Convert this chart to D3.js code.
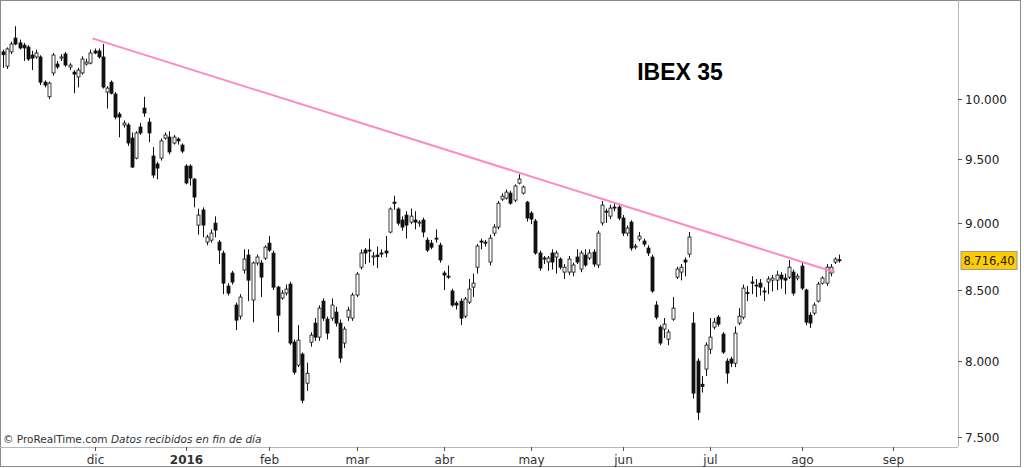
<!DOCTYPE html>
<html><head><meta charset="utf-8">
<script src="https://cdn.jsdelivr.net/npm/d3@7"></script>
<style>body{margin:0;background:#fff}svg{display:block}</style>
</head><body><svg id="c" width="1024" height="468"></svg>
<script>
const open=[10410,10284,10410,10533,10490,10470,10453,10382,10365,10365,10145,10020,10225,10303,10355,10392,10277,10232,10190,10225,10303,10311,10418,10418,10365,10060,10145,10043,9873,9782,9782,9674,9510,9765,9924,9806,9527,9463,9510,9674,9682,9633,9666,9616,9446,9446,9342,8983,9099,8854,8869,8998,8854,8771,8529,8624,8392,8313,8646,8757,8428,8698,8698,8734,8846,8771,8521,8442,8478,8543,8132,7974,8049,7852,8131,8264,8166,8420,8292,8299,8342,8264,8125,8306,8299,8464,8667,8794,8794,8742,8757,8772,8787,8930,9160,9107,9022,9060,9006,9022,8998,9022,8869,8846,8884,8831,8624,8601,8493,8406,8420,8313,8413,8521,8667,8862,8854,8705,8922,8968,9184,9192,9231,9176,9310,9231,9160,9075,9014,8772,8735,8705,8772,8742,8727,8631,8631,8631,8742,8653,8757,8735,8779,8683,9000,9090,9052,9122,9122,9037,8922,9006,8816,8877,8862,8809,8742,8392,8236,8222,8152,8292,8594,8631,8720,8764,8264,8001,7845,7947,8083,8236,8306,8187,8001,8015,7987,8264,8306,8482,8558,8536,8550,8493,8558,8572,8572,8609,8587,8594,8631,8587,8675,8500,8320,8335,8420,8550,8550,8624,8705,8722];
const close=[10385,10436,10480,10480,10445,10445,10347,10355,10400,10145,10120,10137,10382,10277,10365,10294,10294,10215,10250,10347,10320,10400,10400,10365,10103,10094,10050,9848,9848,9798,9633,9438,9716,9716,9882,9716,9374,9430,9650,9699,9560,9682,9650,9567,9311,9350,9200,9060,8983,8892,8922,8945,8794,8550,8478,8558,8285,8449,8727,8572,8698,8742,8594,8816,8794,8521,8320,8478,8507,8125,7926,8145,7739,7919,8180,8166,8370,8299,8194,8392,8264,8022,8222,8356,8464,8616,8772,8772,8790,8750,8745,8764,8772,9107,9150,8998,8968,8983,9052,9006,9006,8930,8794,8816,8877,8720,8609,8594,8392,8392,8299,8435,8507,8550,8824,8854,8846,8884,8968,9152,9207,9239,9152,9287,9342,9279,9037,9029,8772,8661,8727,8735,8705,8772,8667,8667,8727,8683,8705,8772,8683,8772,8690,8922,9137,9083,9114,9114,9037,8922,8960,8809,8824,8899,8839,8772,8493,8306,8125,8257,8201,8370,8653,8667,8705,8892,7786,7660,7830,8111,8166,8271,8257,8063,7920,7987,8194,8313,8514,8478,8550,8529,8521,8486,8580,8587,8609,8580,8572,8667,8478,8601,8514,8271,8264,8392,8543,8587,8667,8667,8727,8716.4];
const high=[10430,10450,10500,10640,10520,10490,10470,10420,10430,10380,10160,10150,10400,10330,10390,10410,10310,10250,10270,10370,10350,10430,10440,10440,10480,10110,10160,10060,9890,9820,9800,9720,9730,9800,10020,9840,9600,9480,9670,9720,9730,9700,9680,9630,9460,9460,9350,9110,9120,8910,8950,9050,8870,8790,8550,8640,8410,8470,8800,8800,8710,8760,8720,8830,8900,8790,8530,8500,8540,8560,8150,8250,8060,7990,8200,8300,8390,8440,8310,8440,8380,8290,8240,8380,8480,8630,8800,8810,8880,8780,8820,8800,8900,9120,9210,9120,9050,9090,9110,9090,9020,9040,8890,8870,8950,8850,8640,8680,8510,8420,8440,8450,8580,8620,8840,8880,8870,8910,8990,9170,9230,9260,9250,9300,9380,9290,9170,9090,9030,8790,8750,8750,8800,8790,8740,8690,8750,8700,8800,8790,8800,8800,8800,8940,9170,9110,9140,9160,9150,9060,8980,9020,8840,8930,8880,8830,8760,8420,8250,8300,8220,8450,8670,8690,8740,8930,8340,8020,7900,8130,8300,8300,8320,8200,8020,8030,8240,8370,8540,8530,8600,8580,8580,8520,8600,8610,8640,8630,8620,8720,8650,8620,8700,8510,8340,8410,8560,8600,8690,8690,8740,8760];
const low=[10270,10260,10390,10470,10430,10330,10330,10250,10350,10120,10100,10000,10200,10260,10330,10280,10250,10050,10100,10210,10290,10300,10390,10350,10090,9920,10040,9830,9680,9760,9610,9430,9500,9700,9850,9640,9350,9340,9490,9660,9540,9620,9620,9550,9300,9290,9120,8910,8890,8830,8850,8890,8690,8470,8460,8540,8215,8290,8620,8420,8270,8680,8450,8720,8780,8500,8200,8430,8460,8110,7910,7960,7720,7800,8100,8140,8140,8280,8150,8280,8240,7990,8090,8280,8280,8450,8650,8690,8700,8680,8660,8740,8740,8920,9100,8980,8940,8880,8990,8950,8970,8890,8780,8800,8850,8700,8500,8580,8380,8360,8250,8300,8400,8450,8620,8800,8820,8680,8900,8950,9170,9180,9140,9160,9300,9220,9010,8990,8760,8640,8690,8640,8650,8620,8650,8580,8610,8600,8690,8630,8670,8720,8670,8660,8980,9000,9030,9090,9020,8900,8900,8790,8800,8860,8820,8750,8480,8290,8110,8160,8110,8280,8580,8570,8600,8740,7750,7610,7790,7900,8050,8220,8240,8050,7850,7960,7960,8250,8290,8420,8470,8450,8460,8420,8470,8490,8500,8510,8470,8580,8460,8570,8500,8250,8230,8320,8410,8540,8530,8600,8690,8700];
const yTicks=[7500,8000,8500,9000,9500,10000];
const monthLabels=["dic","2016","feb","mar","abr","may","jun","jul","ago","sep"];
const monthIdx=[22,44,64,85,106,127,149,170,192,214];
const trend=[{i:21.5,v:10530},{i:200,v:8630}];
const lastPrice="8.716,40";

const svg=d3.select("#c");
const W=958,H=447;
const x=d3.scaleLinear().domain([0,201]).range([3,839]);
const y=d3.scaleLog().domain([7437,10880]).range([H,0]);
const fmt=v=>d3.format(",")(v).replace(/,/g,".");

svg.append("rect").attr("x",0.5).attr("y",0.5).attr("width",1020).attr("height",466).attr("fill","none").attr("stroke","#8a8a8a");
const g=svg.append("g");
const cw=3;
open.forEach((o,i)=>{
  const c=close[i],up=c>=o,cx=Math.round(x(i))+0.5;
  g.append("line").attr("x1",cx).attr("x2",cx).attr("y1",y(high[i])).attr("y2",y(low[i])).attr("stroke","#111").attr("stroke-width",1);
  const t=y(Math.max(o,c)),b=y(Math.min(o,c));
  g.append("rect").attr("x",cx-cw/2).attr("y",t).attr("width",cw).attr("height",Math.max(1,b-t))
   .attr("fill",up?"#fff":"#111").attr("stroke","#111").attr("stroke-width",0.8);
});
svg.append("line").attr("x1",x(trend[0].i)).attr("y1",y(trend[0].v)).attr("x2",x(trend[1].i)).attr("y2",y(trend[1].v))
  .attr("stroke","#ff88c8").attr("stroke-width",2);

svg.append("line").attr("x1",W+0.5).attr("x2",W+0.5).attr("y1",0).attr("y2",H).attr("stroke","#b0b8c0");
svg.append("line").attr("x1",0).attr("x2",W).attr("y1",H+0.5).attr("y2",H+0.5).attr("stroke","#b0b8c0");
yTicks.forEach(v=>{
  const yy=Math.round(y(v))+0.5;
  svg.append("line").attr("x1",W).attr("x2",W+4).attr("y1",yy).attr("y2",yy).attr("stroke","#555");
  svg.append("text").attr("x",W+7).attr("y",yy+4.5).text(fmt(v)).attr("font-family","DejaVu Sans").attr("font-size",12).attr("fill","#222");
});
const ly=Math.round(y(8716.4))+0.5;
svg.append("rect").attr("x",961).attr("y",ly-9).attr("width",56).attr("height",18).attr("fill","#ffcc00").attr("stroke","#999");
svg.append("text").attr("x",989).attr("y",ly+4.5).attr("text-anchor","middle").text(lastPrice).attr("font-family","DejaVu Sans").attr("font-size",11.5).attr("fill","#222");
monthIdx.forEach((m,k)=>{
  const xx=Math.round(x(m))+0.5;
  svg.append("line").attr("x1",xx).attr("x2",xx).attr("y1",H).attr("y2",H+4).attr("stroke","#555");
  svg.append("text").attr("x",xx).attr("y",H+17).attr("text-anchor","middle").text(monthLabels[k])
    .attr("font-family","DejaVu Sans").attr("font-size",12).attr("font-weight",monthLabels[k]==="2016"?"bold":"normal").attr("fill","#333");
});
svg.append("text").attr("x",680).attr("y",80).attr("text-anchor","middle").text("IBEX 35")
  .attr("font-family","Liberation Sans").attr("font-weight","bold").attr("font-size",23).attr("fill","#000");
const cp=svg.append("text").attr("x",3).attr("y",443).attr("font-family","DejaVu Sans").attr("font-size",10.5).attr("fill","#333");
cp.append("tspan").text("© ProRealTime.com ");
cp.append("tspan").attr("font-style","italic").text("Datos recibidos en fin de día");
</script></body></html>
